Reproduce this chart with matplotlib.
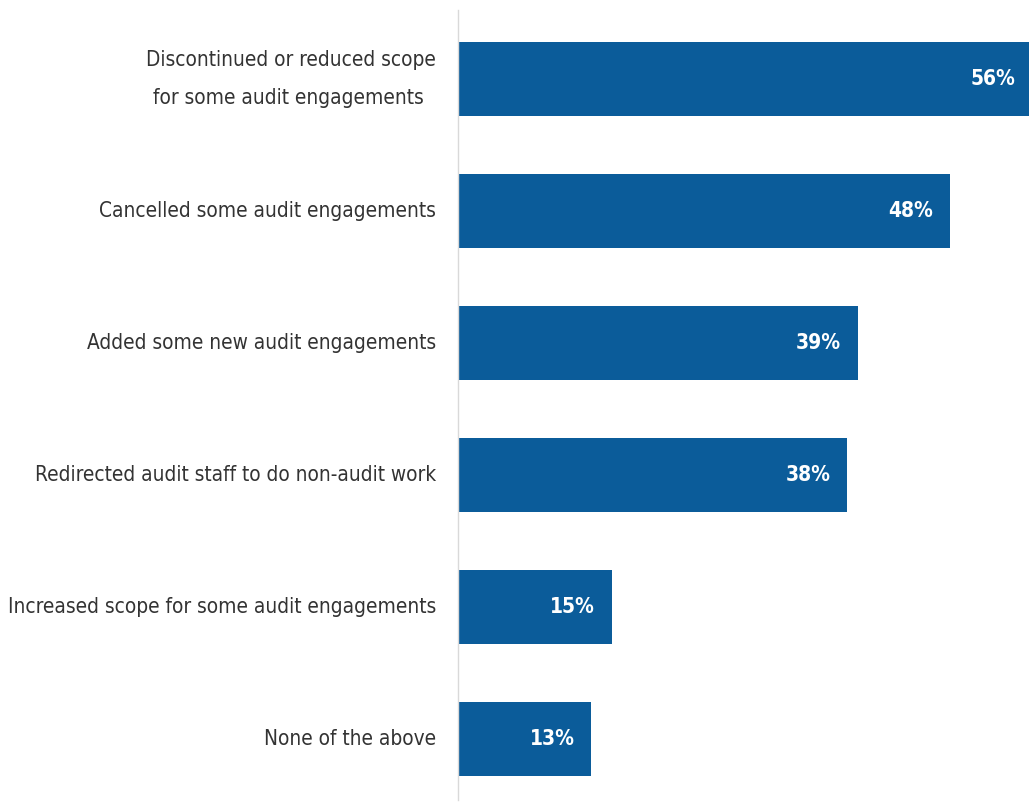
import matplotlib
matplotlib.use("Agg")
import matplotlib.pyplot as plt
from matplotlib import font_manager

categories = [
    "Discontinued or reduced scope\nfor some audit engagements ",
    "Cancelled some audit engagements",
    "Added some new audit engagements",
    "Redirected audit staff to do non-audit work",
    "Increased scope for some audit engagements",
    "None of the above",
]
values = [56, 48, 39, 38, 15, 13]
value_labels = ["56%", "48%", "39%", "38%", "15%", "13%"]

plt.rcParams['font.family'] = ['DejaVu Sans']
has_cond = any("Condensed" in f.fname and "DejaVuSans" in f.fname
               for f in font_manager.fontManager.ttflist)
stretch = "condensed" if has_cond else "normal"

fig = plt.figure(figsize=(10.29, 8.10), dpi=100)
ax = fig.add_axes([458/1029, 10/810, (1032-458)/1029, 790/810])
ax.set_xlim(0, 56)
ypos = list(range(len(values)))
bar_color = "#0b5c9a"
ax.barh(ypos, values, height=0.56, color=bar_color, clip_on=True)
ax.set_ylim(5.46, -0.523)

for y, v, lab in zip(ypos, values, value_labels):
    ax.annotate(lab, xy=(v, y), xytext=(-12, 0), textcoords="offset points",
                ha="right", va="center", color="white", fontsize=15,
                fontweight="bold", fontstretch=stretch)

ax.set_yticks(ypos)
ax.set_yticklabels(categories, fontsize=17, color="#333333", linespacing=2.1,
                   fontstretch=stretch, va="center")
for t in ax.get_yticklabels():
    t.set_multialignment("center")
ax.tick_params(axis="y", length=0, pad=16)
ax.set_xticks([])
for s in ["top", "right", "bottom"]:
    ax.spines[s].set_visible(False)
ax.spines["left"].set_color("#d9d9d9")
ax.spines["left"].set_linewidth(1)

# fit label font size so the longest label spans ~425 px
fig.canvas.draw()
r = fig.canvas.get_renderer()
w = max(t.get_window_extent(r).width for t in ax.get_yticklabels())
new = 17 * 425 / w
for t in ax.get_yticklabels():
    t.set_fontsize(new)

fig.savefig("out.png", dpi=100)
